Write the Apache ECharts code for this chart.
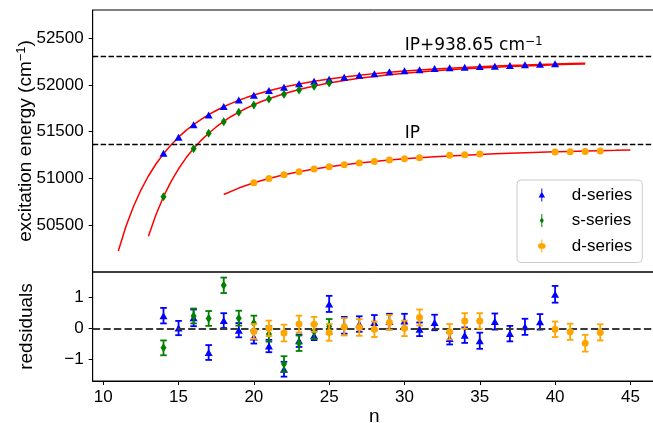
<!DOCTYPE html>
<html>
<head>
<meta charset="utf-8">
<script src="https://cdn.jsdelivr.net/npm/echarts@6/dist/echarts.min.js"></script>
<style>
html,body{margin:0;padding:0;background:#fff;}
#c{width:653px;height:423px;}
</style>
</head>
<body>
<div id="c"></div>
<script>
// ---- data ----
const IP = 51365;
const IP2 = 52303.65;
const xTicks = [10, 15, 20, 25, 30, 35, 40, 45];
const yTicksTop = [50500, 51000, 51500, 52000, 52500];
const yTicksRes = [-1, 0, 1];

const blueN = [14,15,16,17,18,19,20,21,22,23,24,25,26,27,28,29,30,31,32,33,34,35,36,37,38,39,40];
const blueE = [51268,51440,51575,51679,51768,51839,51889,51939,51975,52011,52039,52061,52082,52104,52118,52139,52150,52161,52175,52182,52189,52196,52200,52207,52214,52220,52225];
const greenN = [14,16,17,18,19,20,21,22,23,24,25];
const greenE = [50803,51318,51482,51607,51707,51786,51850,51900,51946,51986,52021];
const orangeN = [20,21,22,23,24,25,26,27,28,29,30,31,33,34,35,40,41,42,43];
const orangeE = [50953,51000,51039,51071,51100,51125,51146,51164,51182,51196,51211,51221,51247,51254,51261,51282,51286,51289,51293];

const fitBlueN = [11,11.5,12,12.5,13,13.5,14,14.5,15,15.5,16,16.5,17,17.5,18,18.5,19,19.5,20,21,22,23,24,25,26,27,28,29,30,31,32,33,34,35,36,37,38,39,40,41,42];
const fitBlueE = [50224,50484,50698,50876,51026,51154,51264,51358,51441,51513,51576,51632,51682,51726,51766,51802,51835,51864,51891,51938,51977,52010,52039,52063,52085,52103,52120,52134,52147,52158,52169,52178,52186,52194,52201,52207,52212,52218,52222,52227,52231];
const fitGreenN = [13,13.5,14,14.5,15,15.5,16,16.5,17,17.5,18,18.5,19,19.5,20,20.5,21,22,23,24,25,26,27,28,29,30,31,32,33,34,35,36,37,38,39,40,41,42];
const fitGreenE = [50381,50612,50805,50966,51103,51220,51320,51407,51483,51550,51609,51662,51708,51750,51788,51822,51852,51905,51950,51987,52019,52046,52070,52090,52108,52124,52138,52150,52161,52171,52180,52188,52196,52202,52208,52214,52219,52224];
const fitOrangeN = [18,19,20,21,22,23,24,25,26,27,28,29,30,31,32,33,34,35,36,37,38,39,40,41,42,43,44,45];
const fitOrangeE = [50828,50897,50953,51000,51039,51072,51101,51125,51147,51165,51182,51196,51209,51220,51231,51240,51248,51256,51263,51269,51275,51280,51285,51289,51293,51297,51300,51304];

const resBlue = [0.41,0.01,0.34,-0.78,0.25,-0.06,-0.28,-0.57,-1.32,-0.40,-0.23,0.79,0.10,0.14,0.19,0.22,0.24,-0.03,0.19,-0.33,-0.22,-0.40,0.22,-0.17,0.05,0.21,1.10];
const errBlue = [0.25,0.23,0.27,0.24,0.24,0.23,0.21,0.20,0.24,0.20,0.15,0.26,0.27,0.25,0.24,0.25,0.23,0.22,0.25,0.19,0.25,0.26,0.26,0.25,0.26,0.25,0.27];
const resGreen = [-0.63,0.40,0.32,1.39,0.33,0.17,-0.18,-1.15,-0.48,-0.10,0.06];
const errGreen = [0.24,0.24,0.24,0.25,0.24,0.24,0.25,0.25,0.25,0.24,0.24];
const resOrange = [-0.10,0.00,-0.15,0.14,0.13,-0.13,0.05,0.03,-0.03,0.19,0.00,0.35,-0.11,0.24,0.24,-0.03,-0.11,-0.48,-0.13];
const errOrange = [0.24,0.25,0.27,0.27,0.24,0.27,0.28,0.27,0.25,0.24,0.25,0.26,0.25,0.25,0.25,0.25,0.26,0.27,0.26];

const legendLabels = {dB: 'd-series', sG: 's-series', dO: 'd-series'};

// ---- styles ----
const BLUE = '#0000ff', GREEN = '#008000', ORANGE = '#ffa500', RED = '#ff0000';
const FONT = 'Liberation Sans';
const zip = (a, b) => a.map((v, i) => [v, b[i]]);
const zip3 = (a, b, c) => a.map((v, i) => [v, b[i], c[i]]);

function errRender(color) {
  return function (params, api) {
    const x = api.value(0), y = api.value(1), e = api.value(2);
    const t = api.coord([x, y + e]);
    const b = api.coord([x, y - e]);
    const cw = 3.3;
    const st = {stroke: color, lineWidth: 1.8};
    return {type: 'group', children: [
      {type: 'line', shape: {x1: t[0], y1: t[1], x2: b[0], y2: b[1]}, style: st},
      {type: 'line', shape: {x1: t[0] - cw, y1: t[1], x2: t[0] + cw, y2: t[1]}, style: st},
      {type: 'line', shape: {x1: b[0] - cw, y1: b[1], x2: b[0] + cw, y2: b[1]}, style: st}
    ]};
  };
}

const iconBlue = 'path://M4.4,0 H5.6 V5.05 L9,11 H5.6 V16 H4.4 V11 H1 L4.4,5.05 Z';
const iconGreen = 'path://M4.4,0 H5.6 V4.96 L7.5,8 L5.6,11.04 V16 H4.4 V11.04 L2.5,8 L4.4,4.96 Z';
const iconOrange = 'path://M4.4,0 H5.6 V4.55 A3.5,3.5 0 1 1 5.6,11.45 V16 H4.4 V11.45 A3.5,3.5 0 1 1 4.4,4.55 Z';

const gridL = 92.7, gridR = -3;
const tickLabel = {color: '#000', fontSize: 17, fontFamily: FONT};
const fitLine = {type: 'line', xAxisIndex: 0, yAxisIndex: 0, smooth: false, showSymbol: false, symbol: 'none',
  lineStyle: {color: RED, width: 1.5}, z: 2, silent: true};

const chart = echarts.init(document.getElementById('c'), null, {renderer: 'canvas'});
chart.setOption({
  animation: false,
  backgroundColor: '#fff',
  grid: [
    {left: gridL, right: gridR, top: 10, height: 262, show: true, borderColor: '#000', borderWidth: 1,
     containLabel: false, outerBoundsMode: 'none'},
    {left: gridL, right: gridR, top: 272, height: 109, show: true, borderColor: '#000', borderWidth: 1,
     containLabel: false, outerBoundsMode: 'none'}
  ],
  xAxis: [
    {gridIndex: 0, type: 'value', min: 9.3, max: 46.7,
     axisLabel: {show: false}, axisTick: {show: false}, axisLine: {show: false}, splitLine: {show: false}},
    {gridIndex: 1, type: 'value', min: 9.3, max: 46.7,
     axisLabel: Object.assign({customValues: xTicks, margin: 8, formatter: v => String(v)}, tickLabel),
     axisTick: {customValues: xTicks, length: 4, lineStyle: {color: '#000', width: 1}},
     axisLine: {show: true, onZero: false, lineStyle: {color: '#000', width: 1}},
     splitLine: {show: false},
     name: 'n', nameLocation: 'middle', nameGap: 26, nameMoveOverlap: false,
     nameTextStyle: {color: '#000', fontSize: 19, fontFamily: FONT}}
  ],
  yAxis: [
    {gridIndex: 0, type: 'value', min: 50000, max: 52800,
     axisLabel: Object.assign({customValues: yTicksTop, margin: 9, formatter: v => String(v)}, tickLabel),
     axisTick: {customValues: yTicksTop, length: 4, lineStyle: {color: '#000', width: 1}},
     axisLine: {show: true, lineStyle: {color: '#000', width: 1}},
     splitLine: {show: false},
     name: '{a|excitation energy (cm}{s|\u22121}{a|)}', nameLocation: 'middle', nameGap: 56,
     nameMoveOverlap: false,
     nameTextStyle: {color: '#000', rich: {
       a: {fontSize: 19, fontFamily: FONT, color: '#000', lineHeight: 22},
       s: {fontSize: 13, fontFamily: FONT, color: '#000', verticalAlign: 'top', lineHeight: 14}
     }}},
    {gridIndex: 1, type: 'value', min: -1.70, max: 1.82,
     axisLabel: Object.assign({customValues: yTicksRes, margin: 9,
       formatter: v => String(v).replace('-', '\u2212')}, tickLabel),
     axisTick: {customValues: yTicksRes, length: 4, lineStyle: {color: '#000', width: 1}},
     axisLine: {show: true, onZero: false, lineStyle: {color: '#000', width: 1}},
     splitLine: {show: false},
     name: 'redsiduals', nameLocation: 'middle', nameGap: 56, nameMoveOverlap: false,
     nameTextStyle: {color: '#000', fontSize: 19, fontFamily: FONT}}
  ],
  legend: {
    orient: 'vertical', left: 517, top: 180,
    padding: [6.5, 10, 8, 21],
    itemWidth: 8, itemHeight: 13, itemGap: 8.5,
    backgroundColor: 'rgba(255,255,255,0.8)', borderColor: '#cccccc', borderWidth: 1, borderRadius: 4,
    selectedMode: false,
    data: [
      {name: 'dB', icon: iconBlue},
      {name: 'sG', icon: iconGreen},
      {name: 'dO', icon: iconOrange}
    ],
    formatter: name => '{t|' + legendLabels[name] + '}',
    textStyle: {rich: {t: {fontSize: 17, fontFamily: FONT, color: '#000', padding: [0, 0, 0, 21]}}}
  },
  series: [
    // fit curves (top)
    Object.assign({}, fitLine, {data: zip(fitBlueN, fitBlueE),
     markLine: {silent: true, symbol: 'none', label: {show: false},
       lineStyle: {color: '#000', type: [5.5, 2.4], width: 1.3},
       data: [{yAxis: IP}, {yAxis: IP2}]},
     markPoint: {silent: true, symbol: 'rect', symbolSize: 1, itemStyle: {color: 'rgba(0,0,0,0)'},
       label: {show: true, position: [0, 0], align: 'left', verticalAlign: 'bottom',
         rich: {
           a: {fontFamily: 'DejaVu Sans', fontSize: 17, color: '#000', lineHeight: 20},
           s: {fontFamily: 'DejaVu Sans', fontSize: 12, color: '#000', lineHeight: 12, verticalAlign: 'top'}
         }},
       data: [
         {coord: [30.05, IP2], label: {formatter: '{a|IP+938.65 cm}{s|\u22121}'}},
         {coord: [30.05, IP], label: {formatter: '{a|IP}'}}
       ]}}),
    Object.assign({}, fitLine, {data: zip(fitGreenN, fitGreenE)}),
    Object.assign({}, fitLine, {data: zip(fitOrangeN, fitOrangeE)}),
    // data points (top)
    {name: 'dB', type: 'scatter', xAxisIndex: 0, yAxisIndex: 0, data: zip(blueN, blueE),
     symbol: 'triangle', symbolSize: [8, 7], itemStyle: {color: BLUE, opacity: 1}, z: 4},
    {name: 'sG', type: 'scatter', xAxisIndex: 0, yAxisIndex: 0, data: zip(greenN, greenE),
     symbol: 'diamond', symbolSize: [6, 9], itemStyle: {color: GREEN, opacity: 1}, z: 4},
    {name: 'dO', type: 'scatter', xAxisIndex: 0, yAxisIndex: 0, data: zip(orangeN, orangeE),
     symbol: 'circle', symbolSize: 7, itemStyle: {color: ORANGE, opacity: 1}, z: 4},
    // residuals
    {type: 'custom', xAxisIndex: 1, yAxisIndex: 1, data: zip3(blueN, resBlue, errBlue),
     renderItem: errRender(BLUE), encode: {x: 0, y: 1}, z: 3, silent: true,
     markLine: {silent: true, symbol: 'none', label: {show: false},
       lineStyle: {color: '#3a3a3a', type: [7.4, 3.2], width: 2},
       data: [{yAxis: 0}]}},
    {name: 'dB', type: 'scatter', xAxisIndex: 1, yAxisIndex: 1, data: zip(blueN, resBlue),
     symbol: 'triangle', symbolSize: [8, 7], itemStyle: {color: BLUE, opacity: 1}, z: 4},
    {type: 'custom', xAxisIndex: 1, yAxisIndex: 1, data: zip3(greenN, resGreen, errGreen),
     renderItem: errRender(GREEN), encode: {x: 0, y: 1}, z: 5, silent: true},
    {name: 'sG', type: 'scatter', xAxisIndex: 1, yAxisIndex: 1, data: zip(greenN, resGreen),
     symbol: 'diamond', symbolSize: [6, 9], itemStyle: {color: GREEN, opacity: 1}, z: 6},
    {type: 'custom', xAxisIndex: 1, yAxisIndex: 1, data: zip3(orangeN, resOrange, errOrange),
     renderItem: errRender(ORANGE), encode: {x: 0, y: 1}, z: 7, silent: true},
    {name: 'dO', type: 'scatter', xAxisIndex: 1, yAxisIndex: 1, data: zip(orangeN, resOrange),
     symbol: 'circle', symbolSize: 7, itemStyle: {color: ORANGE, opacity: 1}, z: 8}
  ]
});
</script>
</body>
</html>
